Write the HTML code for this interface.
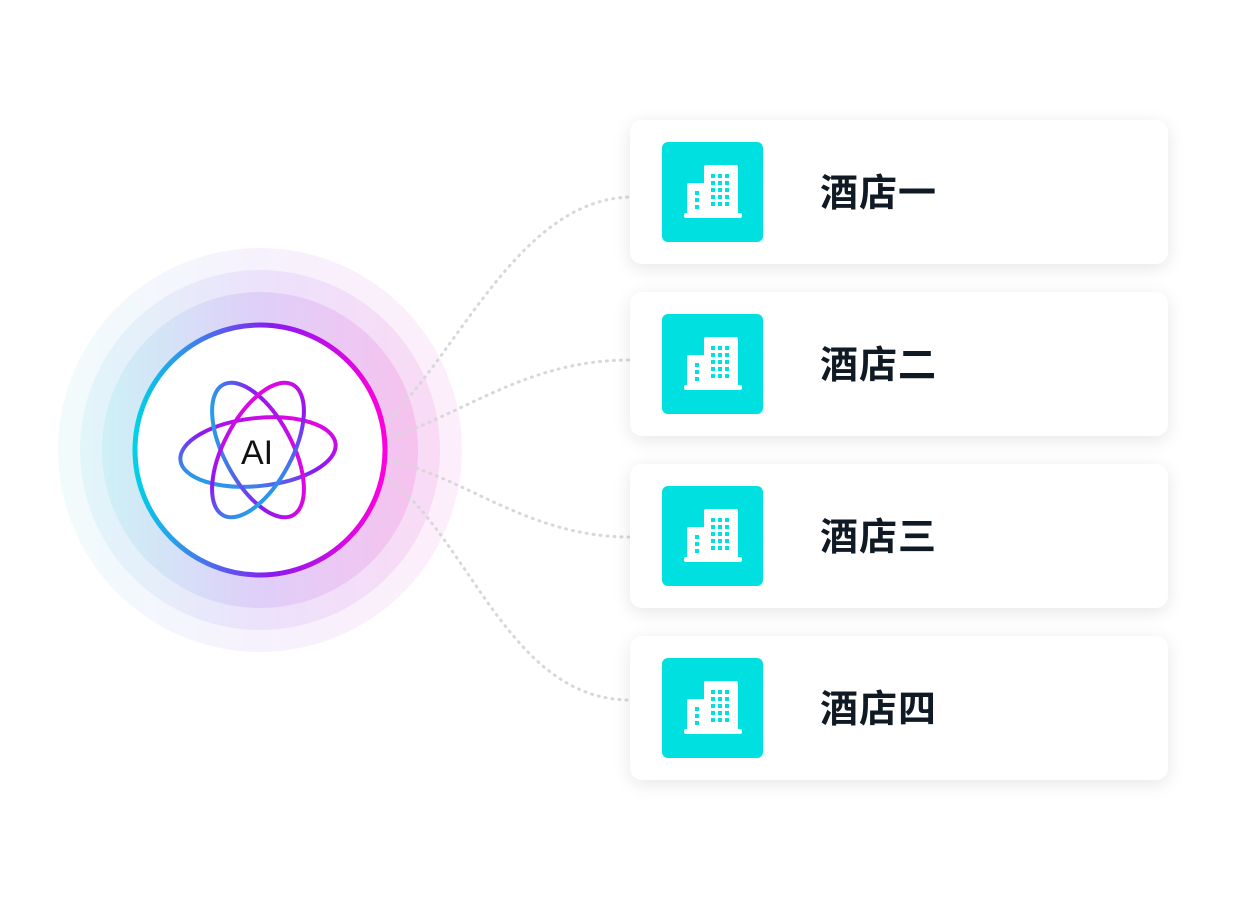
<!DOCTYPE html>
<html><head><meta charset="utf-8"><style>
body{margin:0;width:1260px;height:900px;background:#fff;position:relative;overflow:hidden;font-family:"Liberation Sans","Noto Sans CJK SC",sans-serif}
.card{position:absolute;left:630px;width:538px;height:144px;background:#fff;border-radius:12px;box-shadow:0 4px 18px rgba(0,0,0,0.10)}
.ic{position:absolute;left:32px;top:22px;width:101px;height:100px;background:#00e0e0;border-radius:6px}
.t{position:absolute;left:190px;top:51px;font-size:38px;font-weight:bold;color:#0f1a24;line-height:46px;letter-spacing:1px}
</style></head><body>
<svg width="1260" height="900" style="position:absolute;left:0;top:0">
<defs>
<linearGradient id="rg" x1="0" y1="0" x2="1" y2="0"><stop offset="0" stop-color="#00d2e6"/><stop offset="0.55" stop-color="#8a1af0"/><stop offset="1" stop-color="#ff00dc"/></linearGradient>
<linearGradient id="bg" x1="0" y1="0" x2="1" y2="0"><stop offset="0" stop-color="#c8f0f5"/><stop offset="0.5" stop-color="#dccaf8"/><stop offset="1" stop-color="#f6bcec"/></linearGradient>
<linearGradient id="ag" x1="0" y1="1" x2="1" y2="0"><stop offset="0" stop-color="#00d0e6"/><stop offset="0.5" stop-color="#8a1af0"/><stop offset="1" stop-color="#ff00dc"/></linearGradient>
</defs>
<circle cx="260" cy="450" r="202" fill="url(#bg)" opacity="0.25"/>
<circle cx="260" cy="450" r="180" fill="url(#bg)" opacity="0.4"/>
<circle cx="260" cy="450" r="158" fill="url(#bg)" opacity="0.8"/>
<g fill="none" stroke="#d8d8dc" stroke-width="3" stroke-dasharray="1 6" stroke-linecap="round">
<path d="M388 420 C460 350 520 200 630 197"/>
<path d="M390 438 C470 410 530 360 630 360"/>
<path d="M390 460 C470 480 530 537 630 537"/>
<path d="M388 478 C470 540 510 700 630 700"/>
</g>
<circle cx="260" cy="450" r="125" fill="#fff" stroke="url(#rg)" stroke-width="5"/>
<g fill="none" stroke="url(#ag)" stroke-width="4" stroke-linecap="round">
<ellipse cx="258" cy="452" rx="78" ry="34" stroke-dasharray="400 14" transform="rotate(-6 258 452)"/>
<ellipse cx="258" cy="450" rx="74" ry="34" stroke-dasharray="380 16" transform="rotate(62 258 450)"/>
<ellipse cx="258" cy="450" rx="74" ry="34" stroke-dasharray="360 18" transform="rotate(-62 258 450)"/>
</g>
<text x="257" y="464" text-anchor="middle" font-family="Liberation Sans,sans-serif" font-size="34" fill="#111">AI</text>
</svg>
<div class="card" style="top:120px"><div class="ic"><svg width="101" height="100"><g fill="#fff"><rect x="42" y="23" width="34" height="50" rx="2"/><rect x="25" y="41" width="20" height="32" rx="2"/><rect x="22" y="71" width="58" height="5" rx="2"/></g><g fill="#00e0e0"><rect x="49" y="32" width="4" height="4"/><rect x="56" y="32" width="4" height="4"/><rect x="63" y="32" width="4" height="4"/><rect x="49" y="39" width="4" height="4"/><rect x="56" y="39" width="4" height="4"/><rect x="63" y="39" width="4" height="4"/><rect x="49" y="46" width="4" height="4"/><rect x="56" y="46" width="4" height="4"/><rect x="63" y="46" width="4" height="4"/><rect x="49" y="53" width="4" height="4"/><rect x="56" y="53" width="4" height="4"/><rect x="63" y="53" width="4" height="4"/><rect x="49" y="60" width="4" height="4"/><rect x="56" y="60" width="4" height="4"/><rect x="63" y="60" width="4" height="4"/><rect x="33" y="49" width="4" height="4"/><rect x="33" y="56" width="4" height="4"/><rect x="33" y="63" width="4" height="4"/></g></svg></div><div class="t">酒店一</div></div>
<div class="card" style="top:292px"><div class="ic"><svg width="101" height="100"><g fill="#fff"><rect x="42" y="23" width="34" height="50" rx="2"/><rect x="25" y="41" width="20" height="32" rx="2"/><rect x="22" y="71" width="58" height="5" rx="2"/></g><g fill="#00e0e0"><rect x="49" y="32" width="4" height="4"/><rect x="56" y="32" width="4" height="4"/><rect x="63" y="32" width="4" height="4"/><rect x="49" y="39" width="4" height="4"/><rect x="56" y="39" width="4" height="4"/><rect x="63" y="39" width="4" height="4"/><rect x="49" y="46" width="4" height="4"/><rect x="56" y="46" width="4" height="4"/><rect x="63" y="46" width="4" height="4"/><rect x="49" y="53" width="4" height="4"/><rect x="56" y="53" width="4" height="4"/><rect x="63" y="53" width="4" height="4"/><rect x="49" y="60" width="4" height="4"/><rect x="56" y="60" width="4" height="4"/><rect x="63" y="60" width="4" height="4"/><rect x="33" y="49" width="4" height="4"/><rect x="33" y="56" width="4" height="4"/><rect x="33" y="63" width="4" height="4"/></g></svg></div><div class="t">酒店二</div></div>
<div class="card" style="top:464px"><div class="ic"><svg width="101" height="100"><g fill="#fff"><rect x="42" y="23" width="34" height="50" rx="2"/><rect x="25" y="41" width="20" height="32" rx="2"/><rect x="22" y="71" width="58" height="5" rx="2"/></g><g fill="#00e0e0"><rect x="49" y="32" width="4" height="4"/><rect x="56" y="32" width="4" height="4"/><rect x="63" y="32" width="4" height="4"/><rect x="49" y="39" width="4" height="4"/><rect x="56" y="39" width="4" height="4"/><rect x="63" y="39" width="4" height="4"/><rect x="49" y="46" width="4" height="4"/><rect x="56" y="46" width="4" height="4"/><rect x="63" y="46" width="4" height="4"/><rect x="49" y="53" width="4" height="4"/><rect x="56" y="53" width="4" height="4"/><rect x="63" y="53" width="4" height="4"/><rect x="49" y="60" width="4" height="4"/><rect x="56" y="60" width="4" height="4"/><rect x="63" y="60" width="4" height="4"/><rect x="33" y="49" width="4" height="4"/><rect x="33" y="56" width="4" height="4"/><rect x="33" y="63" width="4" height="4"/></g></svg></div><div class="t">酒店三</div></div>
<div class="card" style="top:636px"><div class="ic"><svg width="101" height="100"><g fill="#fff"><rect x="42" y="23" width="34" height="50" rx="2"/><rect x="25" y="41" width="20" height="32" rx="2"/><rect x="22" y="71" width="58" height="5" rx="2"/></g><g fill="#00e0e0"><rect x="49" y="32" width="4" height="4"/><rect x="56" y="32" width="4" height="4"/><rect x="63" y="32" width="4" height="4"/><rect x="49" y="39" width="4" height="4"/><rect x="56" y="39" width="4" height="4"/><rect x="63" y="39" width="4" height="4"/><rect x="49" y="46" width="4" height="4"/><rect x="56" y="46" width="4" height="4"/><rect x="63" y="46" width="4" height="4"/><rect x="49" y="53" width="4" height="4"/><rect x="56" y="53" width="4" height="4"/><rect x="63" y="53" width="4" height="4"/><rect x="49" y="60" width="4" height="4"/><rect x="56" y="60" width="4" height="4"/><rect x="63" y="60" width="4" height="4"/><rect x="33" y="49" width="4" height="4"/><rect x="33" y="56" width="4" height="4"/><rect x="33" y="63" width="4" height="4"/></g></svg></div><div class="t">酒店四</div></div>
</body></html>
